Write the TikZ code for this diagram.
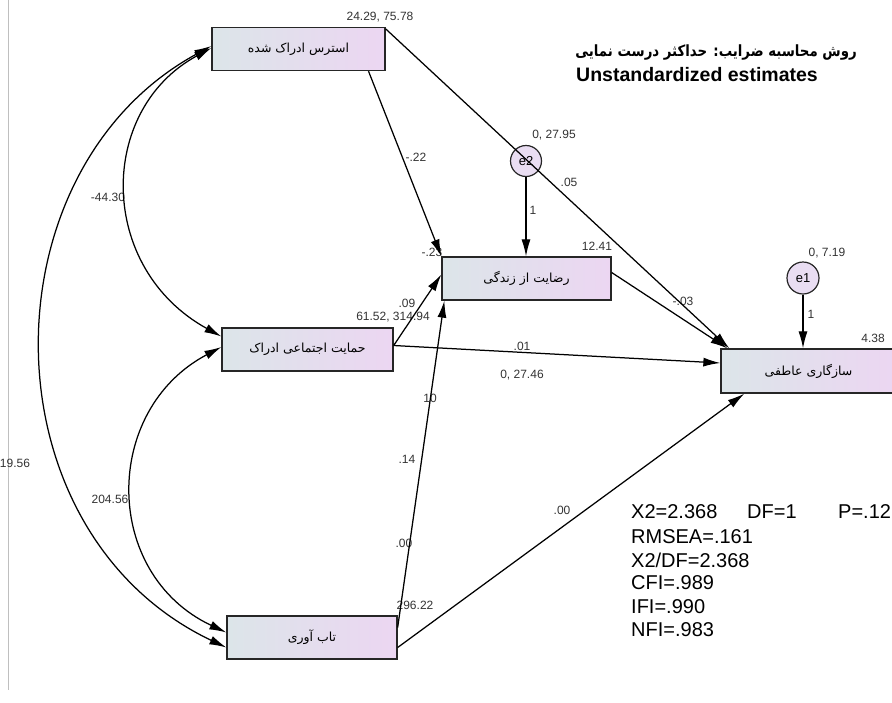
\documentclass[tikz,border=0pt]{standalone}
\usepackage{fontspec}
\setmainfont{Liberation Sans}
\newfontfamily\fa[Script=Arabic]{DejaVu Sans}
\TeXXeTstate=1
\usetikzlibrary{arrows.meta,calc}
\definecolor{boxL}{RGB}{220,229,233}
\definecolor{boxR}{RGB}{236,214,242}
\definecolor{errF}{RGB}{233,221,242}

\begin{document}
\begin{tikzpicture}[x=1pt,y=-1pt,
  varbox/.style={draw=black!85, line width=1.3pt, left color=boxL, right color=boxR,
    minimum height=43pt, inner sep=0pt, font=\fa\fontsize{12.5}{14}\selectfont},
  errc/.style={circle, draw=black!85, line width=1.2pt, fill=errF, minimum size=31pt,
    inner sep=0pt, font=\fontsize{13}{15}\selectfont},
  reg/.style={line width=1.25pt, -{Latex[length=17pt,width=9pt]}},
  cov/.style={line width=1.25pt, {Latex[length=17pt,width=9pt]}-{Latex[length=17pt,width=9pt]}},
  est/.style={font=\fontsize{12}{14}\selectfont, text=black!80, inner sep=0pt},
  fitline/.style={font=\fontsize{20}{22}\selectfont, anchor=west, inner sep=0pt}
]
\clip (0,0) rectangle (892,702);
\fill[white] (0,0) rectangle (892,702);
\draw[black!25, line width=0.8pt] (8,0) -- (8,690);

% observed variables
\node[varbox, minimum width=173pt] (stress)  at (298.5,49)   {\beginR استرس ادراک شده\endR};
\node[varbox, minimum width=171pt] (support) at (307.5,349.5) {\beginR حمایت اجتماعی ادراک\endR};
\node[varbox, minimum width=169pt] (life)    at (526.5,278.5) {\beginR رضایت از زندگی\endR};
\node[varbox, minimum width=170pt] (res)     at (312,637.5)   {\beginR تاب آوری\endR};
\node[varbox, minimum width=175pt, minimum height=44pt] (emo) at (808.5,371) {\beginR سازگاری عاطفی\endR};

% error terms
\node[errc] (e2) at (526,161) {e2};
\node[errc, minimum size=32pt] (e1) at (803,278) {e1};

% estimates
\node[est] at (380,17)  {24.29, 75.78};
\node[est] at (554,135) {0, 27.95};
\node[est] at (416,157) {-.22};
\node[est] at (569,182) {.05};
\node[est] at (533,210) {1};
\node[est] at (432,252) {-.23};
\node[est] at (597,246) {12.41};
\node[est] at (407,303) {.09};
\node[est] at (393,317) {61.52, 314.94};
\node[est] at (522,346) {.01};
\node[est] at (522,375) {0, 27.46};
\node[est] at (683,301) {-.03};
\node[est] at (827,253) {0, 7.19};
\node[est] at (811,314) {1};
\node[est] at (873,338) {4.38};
\node[est] at (15,463)  {19.56};
\node[est] at (108,197) {-44.30};
\node[est] at (110,499) {204.56};
\node[est] at (430,398) {10};
\node[est] at (407,459) {.14};
\node[est] at (404,543) {.00};
\node[est] at (415,605) {296.22};
\node[est] at (562,510) {.00};

% title
\node[anchor=east, inner sep=0pt, font=\fa\bfseries\fontsize{15.5}{17}\selectfont] (ttl) at (857,52)
  {\scalebox{0.86}[1]{\beginR روش محاسبه ضرایب: حداکثر درست نمایی\endR}};
\node[anchor=west, inner sep=0pt, font=\bfseries\fontsize{19.5}{22}\selectfont] (sub) at (576,75)
  {Unstandardized estimates};

% fit indices
\node[fitline] (f1) at (631,512) {X2=2.368};
\node[fitline] (f1b) at (747,512) {DF=1};
\node[fitline] (f1c) at (838,512) {P=.12};
\node[fitline] (f2) at (631,537) {RMSEA=.161};
\node[fitline] (f3) at (631,560) {X2/DF=2.368};
\node[fitline] (f4) at (631,583) {CFI=.989};
\node[fitline] (f5) at (631,607) {IFI=.990};
\node[fitline] (f6) at (631,630) {NFI=.983};

% regression paths
\draw[reg] ([xshift=70pt]stress.south) -- (life.north west);
\draw[reg] ([yshift=-2pt]stress.north east) -- ([xshift=9pt]emo.north west);
\draw[reg] (e2.south) -- (e2.south |- life.north);
\draw[reg] ([yshift=6pt]life.east) -- ([xshift=7pt]emo.north west);
\draw[reg] ([yshift=4pt]support.east) -- ([yshift=4pt]life.west);
\draw[reg] ([yshift=4pt]support.east) -- ([yshift=8pt]emo.west);
\draw[reg] ([yshift=10pt]res.east) -- ([xshift=3pt]life.south west);
\draw[reg] ([yshift=-10pt]res.east) -- ([xshift=24pt]emo.south west);
\draw[reg] (e1.south) -- (e1.south |- emo.north);

% covariances
\draw[cov] ([yshift=1pt]stress.west) .. controls (97,110) and (97,268) .. ([yshift=13pt]support.west);
\draw[cov] ([yshift=3pt]stress.west) .. controls (-17,170) and (-17,532) .. ([yshift=-10pt]res.west);
\draw[cov] ([yshift=2.5pt]support.west) .. controls (102,410) and (102,574) .. ([yshift=5pt]res.west);
\end{tikzpicture}
\end{document}
